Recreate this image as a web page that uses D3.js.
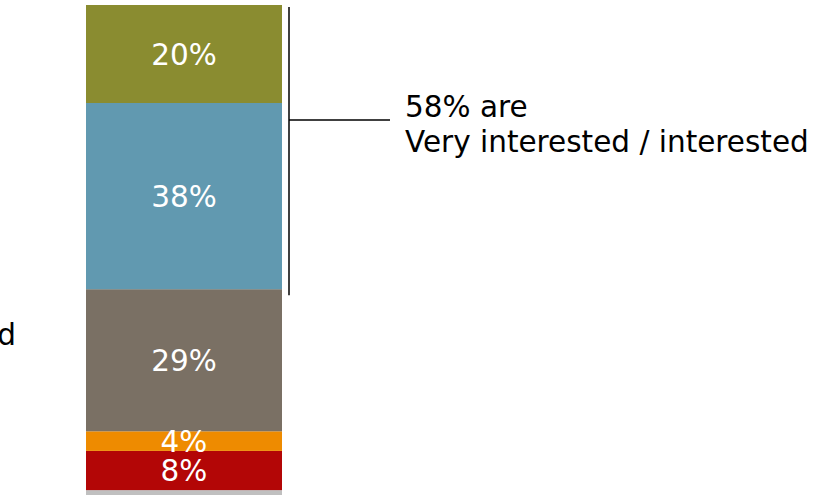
<!DOCTYPE html>
<html>
<head>
<meta charset="utf-8">
<script src="https://cdn.jsdelivr.net/npm/d3@7"></script>
<style>
  html, body { margin: 0; padding: 0; background: #ffffff; }
  svg { display: block; font-family: "DejaVu Sans", Verdana, sans-serif; }
</style>
</head>
<body>
<svg id="chart" width="821" height="495"></svg>
<script>
// Interest levels, stacked bottom to top
const categories = ["No answer", "Not at all interested", "Not very interested", "Somewhat interested", "Interested", "Very interested"];
const values = [1, 8, 4, 29, 38, 20];
const labels = ["", "8%", "4%", "29%", "38%", "20%"];
const colors = ["#c0c0c0", "#b30606", "#ee8b00", "#7a7064", "#6199b0", "#8a8c30"];
const calloutLines = ["58% are", "Very interested / interested"];
const calloutGroup = ["Interested", "Very interested"];

const svg = d3.select("#chart");
const fontSize = 29.5;

const y = d3.scaleLinear().domain([0, 100]).range([495, 5]);
const x = d3.scaleBand().domain(["all"]).range([86, 282]).padding(0);

// cumulative stacking
let acc = 0;
const segs = categories.map((c, i) => {
  const s = { cat: c, v: values[i], label: labels[i], color: colors[i], y0: acc, y1: acc + values[i] };
  acc += values[i];
  return s;
});

const g = svg.append("g");
g.selectAll("rect.seg")
  .data(segs)
  .join("rect")
  .attr("class", "seg")
  .attr("x", x("all"))
  .attr("width", x.bandwidth())
  .attr("y", d => y(d.y1))
  .attr("height", d => y(d.y0) - y(d.y1))
  .attr("fill", d => d.color);

g.selectAll("text.val")
  .data(segs.filter(d => d.label))
  .join("text")
  .attr("class", "val")
  .attr("x", x("all") + x.bandwidth() / 2)
  .attr("y", d => (y(d.y0) + y(d.y1)) / 2)
  .attr("dy", "0.36em")
  .attr("text-anchor", "middle")
  .attr("fill", "#ffffff")
  .attr("font-size", fontSize)
  .text(d => d.label);

// bracket spanning the top two segments
const grp = segs.filter(d => calloutGroup.includes(d.cat));
const bracketTop = y(d3.max(grp, d => d.y1)) + 2;
const bracketBottom = y(d3.min(grp, d => d.y0)) + 6;
const bx = x("all") + x.bandwidth() + 7;

svg.append("line")
  .attr("x1", bx).attr("x2", bx)
  .attr("y1", bracketTop).attr("y2", bracketBottom)
  .attr("stroke", "#000").attr("stroke-width", 1.5);

svg.append("line")
  .attr("x1", bx).attr("x2", bx + 101)
  .attr("y1", 120).attr("y2", 120)
  .attr("stroke", "#000").attr("stroke-width", 1.5);

svg.append("text")
  .attr("x", 405)
  .attr("font-size", fontSize)
  .attr("fill", "#000")
  .selectAll("tspan")
  .data(calloutLines)
  .join("tspan")
  .attr("x", 405)
  .attr("y", (d, i) => 116.5 + i * 35)
  .text(d => d);

// left-side category text, clipped by the page edge
svg.append("text")
  .attr("x", 16)
  .attr("y", 345)
  .attr("text-anchor", "end")
  .attr("font-size", fontSize)
  .attr("fill", "#000")
  .text("d");
</script>
</body>
</html>
